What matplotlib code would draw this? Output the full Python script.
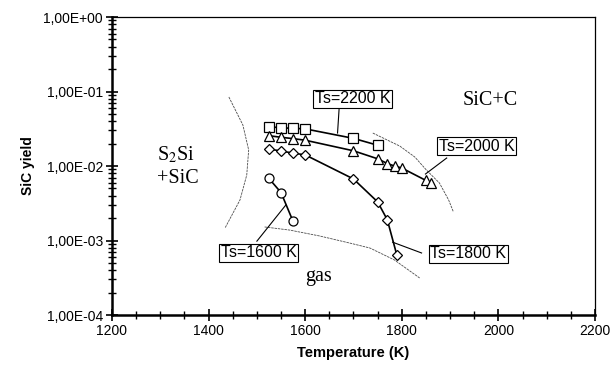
import numpy as np
import matplotlib
matplotlib.use("Agg")
import matplotlib.pyplot as plt
from matplotlib.ticker import MultipleLocator, LogLocator, FuncFormatter, NullFormatter

plt.rcParams['font.family'] = ['Liberation Sans', 'DejaVu Sans']
plt.rcParams['mathtext.fontset'] = 'stix'

# %% Data (temperature in K, SiC yield)
T_2200 = [1525, 1550, 1575, 1600, 1700, 1750]
y_2200 = [0.0338, 0.0325, 0.0321, 0.0315, 0.0235, 0.019]

T_2000 = [1525, 1550, 1575, 1600, 1700, 1750, 1770, 1785, 1800, 1850, 1860]
y_2000 = [0.0255, 0.0243, 0.0233, 0.0222, 0.016, 0.0125, 0.0108, 0.0100, 0.0094, 0.0064, 0.0059]

T_1800 = [1525, 1550, 1575, 1600, 1700, 1750, 1770, 1790]
y_1800 = [0.0169, 0.0159, 0.0149, 0.0141, 0.0067, 0.0033, 0.0019, 0.00063]

T_1600 = [1525, 1550, 1575]
y_1600 = [0.0068, 0.0044, 0.0018]

# phase boundary guide curves
left_T = [1442, 1471, 1483, 1479, 1465, 1434]
left_y = [0.0844, 0.0355, 0.0164, 0.00757, 0.0035, 0.00147]
upper_T = [1740, 1796, 1827, 1851, 1878, 1897, 1907]
upper_y = [0.0277, 0.0185, 0.0132, 0.00883, 0.00591, 0.0035, 0.00241]
lower_T = [1516, 1568, 1630, 1692, 1734, 1785, 1837]
lower_y = [0.00152, 0.00138, 0.00115, 0.000925, 0.000793, 0.000547, 0.000314]

# labels: text, box centre, leader start, leader end
series_labels = [
    ("Ts=2200 K", (1698, 0.080), (1671, 0.070), (1667, 0.0277)),
    ("Ts=2000 K", (1955, 0.0185), (1893, 0.0128), (1849, 0.0078)),
    ("Ts=1800 K", (1938, 0.00066), (1841, 0.00068), (1781, 0.00095)),
    ("Ts=1600 K", (1504, 0.00068), (1500, 0.00098), (1560, 0.0030)),
]

# %% Plot
fig = plt.figure(figsize=(6.14, 3.72), dpi=100)
ax = fig.add_axes([0.1824, 0.1532, 0.7866, 0.8011])

for xs, ys in [(left_T, left_y), (upper_T, upper_y), (lower_T, lower_y)]:
    ax.plot(xs, ys, color="0.3", lw=0.6, dashes=(3, 1), zorder=1)

mk = dict(color="black", lw=1.2, mfc="white", mec="black", mew=0.9, zorder=3)
ax.plot(T_2200, y_2200, marker="s", ms=6.5, **mk)
ax.plot(T_2000, y_2000, marker="^", ms=7, **mk)
ax.plot(T_1800, y_1800, marker="D", ms=5, **mk)
ax.plot(T_1600, y_1600, marker="o", ms=6.5, **mk)

for txt, c, p0, p1 in series_labels:
    ax.plot([p0[0], p1[0]], [p0[1], p1[1]], color="black", lw=0.8, zorder=2)
    ax.text(c[0], c[1], txt, ha="center", va="center", fontsize=11.5, zorder=4,
            bbox=dict(boxstyle="square,pad=0.1", fc="white", ec="black", lw=0.8))

serif = ['Liberation Serif', 'DejaVu Serif']
ax.text(1293, 0.0141, r"S$_2$Si", family=serif, fontsize=14.5, va="center", ha="left")
ax.text(1293, 0.0069, "+SiC", family=serif, fontsize=14.5, va="center", ha="left")
ax.text(2040, 0.0769, "SiC+C", family=serif, fontsize=14.5, va="center", ha="right")
ax.text(1628, 0.00033, "gas", family=serif, fontsize=14.5, va="center", ha="center")

ax.set_xlim(1200, 2200)
ax.set_yscale("log")
ax.set_ylim(1e-4, 1)
ax.xaxis.set_major_locator(MultipleLocator(200))
ax.xaxis.set_minor_locator(MultipleLocator(50))
ax.yaxis.set_major_locator(LogLocator(base=10, numticks=10))
ax.yaxis.set_minor_locator(LogLocator(base=10, subs=np.arange(2, 10), numticks=10))
ax.yaxis.set_major_formatter(FuncFormatter(lambda v, p: f"{v:.2E}".replace(".", ",")))
ax.yaxis.set_minor_formatter(NullFormatter())

ax.tick_params(which="major", direction="inout", length=9, width=1.2, labelsize=10, pad=2)
ax.tick_params(which="minor", direction="inout", length=6, width=1.0)
ax.tick_params(axis="both", top=False, right=False)

for s in ["left", "bottom"]:
    ax.spines[s].set_linewidth(1.8)
for s in ["top", "right"]:
    ax.spines[s].set_linewidth(0.9)

ax.set_xlabel("Temperature (K)", fontsize=10.5, fontweight="bold", labelpad=6)
ax.set_ylabel("SiC yield", fontsize=10, fontweight="bold", labelpad=6)

fig.savefig("out.png", dpi=100)
